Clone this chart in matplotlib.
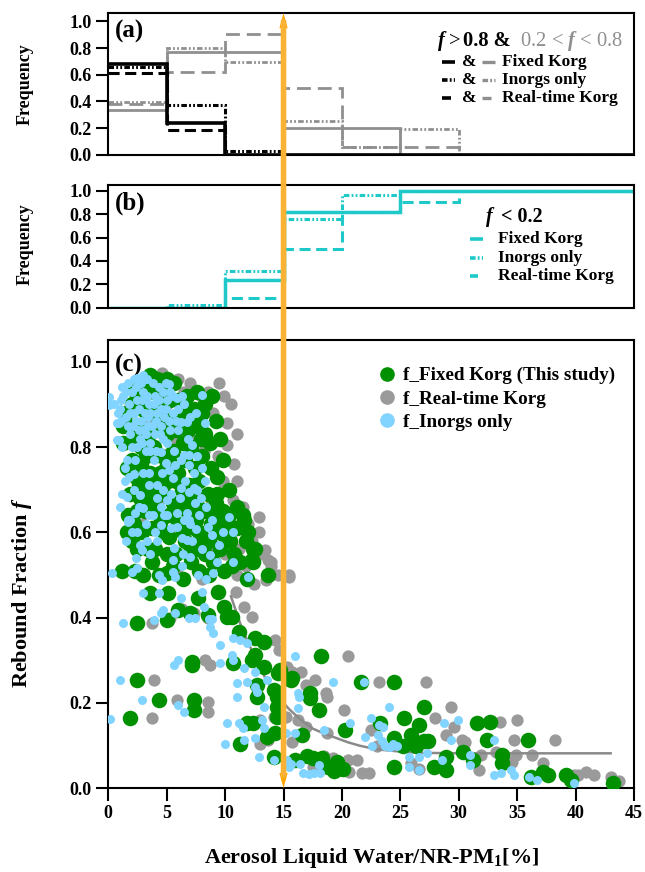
import numpy as np
import matplotlib.pyplot as plt
from matplotlib.patches import ConnectionPatch
from matplotlib.lines import Line2D

plt.rcParams['font.family'] = ['Liberation Serif', 'DejaVu Serif']
plt.rcParams['font.weight'] = 'bold'
plt.rcParams['axes.labelweight'] = 'bold'
plt.rcParams['mathtext.fontset'] = 'custom'
plt.rcParams['mathtext.rm'] = 'Liberation Serif:bold'
plt.rcParams['mathtext.bf'] = 'Liberation Serif:bold'
plt.rcParams['mathtext.it'] = 'Liberation Serif:italic'
plt.rcParams['lines.scale_dashes'] = False
plt.rcParams['axes.linewidth'] = 1.5

# ---- data ----
edges = [0, 5, 10, 15, 20, 25, 30, 35, 40, 45]

# (a) fraction of points per bin, f > 0.8 (black) and 0.2 < f < 0.8 (gray)
high_fixed = [0.68, 0.235, 0, 0, 0, 0, 0, 0, 0]
high_inorg = [0.655, 0.375, 0.03, 0, 0, 0, 0, 0, 0]
high_realtime = [0.615, 0.185, 0, 0, 0, 0, 0, 0, 0]
mid_fixed = [0.335, 0.767, 0.767, 0.197, 0.197, 0, 0, 0, 0]
mid_inorg = [0.398, 0.797, 0.692, 0.25, 0.06, 0.195, 0, 0, 0]
mid_realtime = [0.38, 0.623, 0.905, 0.50, 0.06, 0.06, 0, 0, 0]

# (b) cumulative frequency, f < 0.2
low_fixed = [0, 0, 0.24, 0.815, 0.815, 1.0, 1.0, 1.0, 1.0]
low_inorg = [0, 0.023, 0.31, 0.76, 0.96, 1.0, 1.0, 1.0, 1.0]
low_realtime = [0, 0, 0.08, 0.50, 0.82, 0.905, 1.0, 1.0, 1.0]

# (c) scatter: (ALW/NR-PM1 %, rebound fraction f)
fixed_pts = [
    (2.0, 0.90), (2.5, 0.92), (3.0, 0.95), (3.6, 0.97), (4.2, 0.96), (4.8, 0.93), (5.6, 0.95),
    (6.0, 0.91), (6.7, 0.92), (7.3, 0.89), (8.9, 0.92), (8.0, 0.88), (3.3, 0.88), (4.5, 0.89),
    (5.2, 0.87), (1.8, 0.85), (2.6, 0.84), (3.5, 0.83), (4.3, 0.85), (5.0, 0.83), (6.2, 0.86),
    (6.8, 0.84), (7.6, 0.85), (8.3, 0.83), (9.2, 0.86), (8.7, 0.81), (7.1, 0.80), (2.2, 0.81),
    (3.9, 0.80), (2.0, 0.77), (2.8, 0.76), (3.6, 0.74), (4.6, 0.78), (5.4, 0.76), (6.0, 0.74),
    (6.6, 0.77), (7.4, 0.75), (8.0, 0.78), (8.8, 0.75), (9.3, 0.73), (2.4, 0.73), (4.2, 0.72),
    (5.8, 0.72), (7.8, 0.72), (1.9, 0.69), (2.7, 0.68), (3.4, 0.70), (4.0, 0.66), (4.8, 0.69),
    (5.5, 0.67), (6.3, 0.70), (7.0, 0.68), (7.7, 0.66), (8.5, 0.69), (9.2, 0.67), (9.8, 0.65),
    (3.1, 0.65), (6.7, 0.65), (10.3, 0.64), (2.2, 0.62), (2.9, 0.60), (3.7, 0.61), (4.5, 0.63),
    (5.2, 0.59), (6.0, 0.62), (6.6, 0.58), (7.3, 0.61), (8.0, 0.59), (8.8, 0.62), (9.5, 0.60),
    (10.4, 0.58), (11.0, 0.61), (11.5, 0.64), (12.6, 0.56), (4.0, 0.56), (8.3, 0.55),
    (1.2, 0.51), (2.3, 0.51), (3.0, 0.50), (4.3, 0.50), (5.5, 0.52), (6.4, 0.49), (7.1, 0.53),
    (8.6, 0.50), (9.9, 0.51), (11.3, 0.53), (12.4, 0.53), (11.9, 0.49), (13.7, 0.50),
    (9.3, 0.69), (11.6, 0.63), (10.7, 0.61), (12.4, 0.56), (12.3, 0.535), (1.3, 0.85),
    (1.3, 0.81), (1.5, 0.88), (2.5, 0.56), (1.6, 0.60),
    (2.3, 0.94), (3.9, 0.93), (5.3, 0.91), (6.4, 0.89), (7.0, 0.86), (7.9, 0.82), (2.9, 0.89),
    (3.8, 0.88), (4.7, 0.86), (5.8, 0.84), (6.4, 0.81), (5.5, 0.79), (4.9, 0.75), (3.2, 0.78),
    (2.6, 0.71), (3.0, 0.72), (3.9, 0.69), (4.4, 0.74), (5.1, 0.72), (6.1, 0.67), (6.9, 0.71),
    (7.5, 0.63), (8.2, 0.65), (9.0, 0.64), (8.6, 0.58), (7.6, 0.56), (6.9, 0.55), (5.8, 0.55),
    (5.0, 0.55), (3.4, 0.56), (2.0, 0.58), (1.7, 0.64), (2.5, 0.65), (3.5, 0.67), (5.2, 0.64),
    (6.4, 0.60), (4.8, 0.60), (7.8, 0.60), (9.6, 0.56), (10.0, 0.59), (9.0, 0.53), (10.8, 0.55),
    (11.8, 0.58), (10.3, 0.70), (9.8, 0.77), (9.6, 0.82), (8.3, 0.90), (7.6, 0.93), (5.0, 0.96),
    (2.8, 0.80), (1.6, 0.75), (3.7, 0.53), (5.0, 0.505), (7.8, 0.51), (10.6, 0.52), (12.0, 0.60),
    (11.0, 0.66), (9.9, 0.62),
    (3.6, 0.457), (5.1, 0.457), (7.7, 0.446), (9.4, 0.46), (9.9, 0.426), (2.46, 0.387),
    (5.0, 0.394), (6.0, 0.418), (7.0, 0.41), (8.5, 0.406), (10.2, 0.402), (10.6, 0.402),
    (11.2, 0.367), (12.6, 0.352), (13.3, 0.344), (12.6, 0.312), (13.3, 0.285), (14.5, 0.27),
    (15.6, 0.254), (7.2, 0.296), (7.2, 0.289), (10.7, 0.293), (2.46, 0.254), (4.3, 0.207),
    (7.3, 0.207), (7.3, 0.184), (1.9, 0.165), (12.7, 0.242), (12.7, 0.215), (14.2, 0.23),
    (14.4, 0.19), (11.9, 0.152), (12.4, 0.152), (13.6, 0.121), (11.3, 0.105), (14.3, 0.13),
    (14.2, 0.074), (16.0, 0.066), (12.3, 0.30), (14.7, 0.278), (14.4, 0.215), (14.4, 0.168),
    (18.2, 0.309), (15.7, 0.258), (21.6, 0.25), (24.5, 0.25), (17.3, 0.223), (17.3, 0.212),
    (18.0, 0.184), (16.6, 0.125), (20.3, 0.137), (23.3, 0.152), (25.3, 0.164), (27.0, 0.191),
    (26.6, 0.148), (25.9, 0.125), (24.5, 0.117), (25.2, 0.10), (26.3, 0.10), (27.0, 0.11),
    (27.4, 0.11), (24.5, 0.05), (27.9, 0.05), (28.9, 0.043), (28.9, 0.074), (17.0, 0.075),
    (17.5, 0.07), (18.3, 0.072), (18.8, 0.05), (19.6, 0.062), (19.6, 0.045), (20.1, 0.045),
    (19.3, 0.04), (30.4, 0.086), (31.6, 0.152), (32.7, 0.156), (32.4, 0.113), (33.7, 0.078),
    (33.7, 0.059), (35.9, 0.113), (36.2, 0.027), (37.2, 0.039), (37.6, 0.031), (39.2, 0.031),
    (39.6, 0.02), (43.2, 0.012), (31.2, 0.067),
]

realtime_pts = [
    (4.6, 0.973), (7.9, 0.92), (9.9, 0.92), (10.2, 0.856), (10.2, 0.805), (9.4, 0.78),
    (9.8, 0.72), (10.7, 0.676), (10.2, 0.64), (12.9, 0.637), (12.9, 0.60), (13.4, 0.559),
    (13.9, 0.52), (15.5, 0.496), (11.2, 0.56), (12.0, 0.62), (10.8, 0.76), (9.0, 0.88),
    (8.5, 0.93), (6.5, 0.93), (5.0, 0.90), (3.0, 0.92), (3.5, 0.85), (5.5, 0.82), (7.0, 0.82),
    (8.2, 0.79), (6.0, 0.72), (7.5, 0.70), (8.6, 0.66), (4.5, 0.68), (3.0, 0.62), (5.0, 0.60),
    (6.8, 0.58), (9.0, 0.57), (10.0, 0.55), (11.8, 0.52), (2.8, 0.50), (6.0, 0.50), (8.0, 0.49),
    (12.5, 0.48), (11.0, 0.50), (9.9, 0.703), (11.9, 0.60), (13.7, 0.535),
    (9.5, 0.95), (10.5, 0.90), (11.0, 0.83), (11.0, 0.72), (11.5, 0.66), (12.3, 0.58),
    (13.0, 0.55), (14.5, 0.50), (4.0, 0.95), (6.0, 0.96), (7.0, 0.95), (9.5, 0.60), (10.5, 0.62),
    (15.45, 0.50), (13.9, 0.53), (13.5, 0.488), (10.9, 0.461), (11.6, 0.426), (12.3, 0.402),
    (14.3, 0.348), (14.6, 0.324), (15.3, 0.285), (15.7, 0.273), (3.7, 0.387), (5.3, 0.40),
    (6.3, 0.42), (7.3, 0.41), (8.5, 0.40), (8.3, 0.30), (8.7, 0.289), (3.9, 0.254),
    (5.9, 0.207), (8.5, 0.203), (8.5, 0.18), (3.7, 0.164), (13.0, 0.16), (14.2, 0.168),
    (15.2, 0.168), (13.0, 0.105), (13.7, 0.113), (15.7, 0.109),
    (20.5, 0.309), (23.2, 0.25), (27.2, 0.25), (16.5, 0.273), (16.9, 0.242), (17.7, 0.254),
    (18.6, 0.223), (18.7, 0.215), (20.2, 0.184), (16.2, 0.16), (16.9, 0.144), (18.7, 0.129),
    (22.5, 0.137), (28.0, 0.164), (29.3, 0.191), (28.9, 0.125), (29.6, 0.144), (20.5, 0.066),
    (21.3, 0.066), (21.7, 0.035), (22.3, 0.035), (20.6, 0.039), (25.9, 0.06), (26.6, 0.045),
    (30.3, 0.113), (30.4, 0.094), (31.9, 0.078), (33.2, 0.086), (34.9, 0.078), (36.3, 0.078),
    (37.2, 0.059), (39.9, 0.031), (40.9, 0.039), (41.6, 0.031), (43.0, 0.027), (43.7, 0.016),
    (33.5, 0.156), (35.0, 0.16), (38.2, 0.113), (34.7, 0.113), (30.5, 0.109), (34.6, 0.062),
    (31.7, 0.043), (40.2, 0.031), (18.5, 0.075), (17.5, 0.05), (19.2, 0.07), (23.0, 0.10),
]

inorg_pts = [
    (0.03, 0.918), (0.03, 0.898), (0.9, 0.816), (0.9, 0.856), (1.7, 0.625), (2.46, 0.961),
    (3.0, 0.969), (5.2, 0.949), (5.9, 0.914), (8.0, 0.922), (0.74, 0.856), (0.74, 0.816),
    (8.3, 0.856), (6.2, 0.859), (6.7, 0.859), (7.2, 0.805), (4.5, 0.789), (6.5, 0.781),
    (6.9, 0.781), (1.6, 0.77), (2.2, 0.738), (4.9, 0.762), (5.2, 0.746), (5.7, 0.758),
    (6.9, 0.758), (5.5, 0.727), (3.5, 0.711), (4.2, 0.711), (6.2, 0.703), (6.9, 0.695),
    (7.3, 0.703), (1.6, 0.684), (2.7, 0.688), (4.2, 0.68), (5.0, 0.676), (7.9, 0.68),
    (1.7, 0.629), (2.3, 0.645), (3.0, 0.656), (5.0, 0.641), (5.9, 0.645), (6.7, 0.645),
    (6.5, 0.629), (2.0, 0.602), (4.5, 0.617), (5.9, 0.613), (7.5, 0.609), (8.5, 0.613),
    (8.9, 0.594), (10.3, 0.637), (6.3, 0.586), (6.7, 0.582), (2.7, 0.57), (2.9, 0.559),
    (5.6, 0.563), (9.5, 0.57), (7.0, 0.543), (8.7, 0.547), (5.5, 0.535), (10.7, 0.602),
    (10.7, 0.531), (12.0, 0.496),
    (1.3, 0.92), (1.8, 0.90), (2.0, 0.93), (2.5, 0.91), (3.0, 0.93), (3.5, 0.90), (4.0, 0.92),
    (4.5, 0.89), (5.0, 0.91), (1.5, 0.87), (2.2, 0.88), (2.8, 0.86), (3.4, 0.87), (4.1, 0.86),
    (4.8, 0.87), (5.5, 0.88), (3.8, 0.95), (2.6, 0.84), (3.2, 0.83), (4.4, 0.83), (1.9, 0.83),
    (3.2, 0.79), (3.9, 0.77), (2.5, 0.80), (3.5, 0.74), (4.0, 0.60), (3.5, 0.64), (4.5, 0.66),
    (3.3, 0.58), (6.1, 0.68), (7.8, 0.64), (1.4, 0.72), (2.2, 0.70),
    (0.5, 0.90), (1.0, 0.89), (1.2, 0.94), (1.7, 0.95), (2.2, 0.96), (2.8, 0.95), (3.3, 0.96),
    (4.3, 0.94), (4.7, 0.93), (5.5, 0.92), (6.0, 0.89), (6.5, 0.90), (7.0, 0.87), (7.5, 0.88),
    (6.0, 0.84), (6.8, 0.82), (5.3, 0.84), (4.5, 0.85), (3.7, 0.85), (3.0, 0.84), (2.4, 0.86),
    (1.7, 0.85), (1.1, 0.86), (1.2, 0.80), (2.0, 0.80), (2.9, 0.81), (3.6, 0.81), (4.1, 0.79),
    (5.0, 0.81), (5.6, 0.79), (6.2, 0.77), (7.6, 0.78), (8.0, 0.75), (7.3, 0.74), (4.6, 0.74),
    (3.0, 0.74), (1.8, 0.73), (1.2, 0.69), (2.6, 0.66), (3.8, 0.64), (4.7, 0.70), (5.4, 0.69),
    (6.6, 0.72), (7.4, 0.67), (8.4, 0.66), (8.9, 0.63), (7.2, 0.58), (8.0, 0.56), (4.2, 0.58),
    (3.6, 0.55), (1.5, 0.58), (6.3, 0.52), (9.3, 0.53), (9.8, 0.60),
    (1.5, 0.93), (2.4, 0.94), (2.9, 0.91), (3.3, 0.92), (3.9, 0.90), (4.3, 0.91), (4.9, 0.95),
    (5.3, 0.93), (1.9, 0.88), (2.6, 0.89), (3.1, 0.88), (3.6, 0.88), (4.2, 0.88), (4.9, 0.89),
    (5.2, 0.86), (2.1, 0.85), (2.7, 0.82), (3.4, 0.85), (4.0, 0.83), (4.7, 0.82), (3.1, 0.96),
    (1.1, 0.91), (0.8, 0.88), (6.3, 0.92), (5.8, 0.86), (3.6, 0.79), (2.3, 0.77), (1.4, 0.75),
    (1.0, 0.66), (1.9, 0.63), (2.5, 0.60), (3.2, 0.62), (2.4, 0.54), (4.8, 0.64), (5.4, 0.61),
    (6.9, 0.63), (7.6, 0.70), (8.3, 0.72), (7.0, 0.62), (6.4, 0.55),
    (0.3, 0.504), (2.0, 0.508), (2.5, 0.516), (4.3, 0.50), (4.6, 0.488), (5.5, 0.508),
    (5.7, 0.496), (7.7, 0.50), (8.4, 0.49), (9.0, 0.505), (3.0, 0.457), (4.3, 0.457),
    (6.2, 0.445), (8.0, 0.461), (8.2, 0.426), (1.3, 0.387), (3.9, 0.394), (4.5, 0.41),
    (4.7, 0.418), (5.7, 0.41), (6.9, 0.40), (7.4, 0.40), (8.6, 0.398), (8.9, 0.398),
    (8.7, 0.379), (9.0, 0.363), (9.6, 0.336), (10.7, 0.352), (11.3, 0.348), (11.9, 0.34),
    (5.6, 0.289), (6.0, 0.30), (9.6, 0.293), (10.6, 0.312), (10.7, 0.30), (11.6, 0.281),
    (12.6, 0.273), (1.03, 0.254), (2.9, 0.207), (6.0, 0.195), (6.5, 0.18), (11.0, 0.246),
    (11.9, 0.25), (11.0, 0.215), (12.6, 0.238), (12.7, 0.226), (13.6, 0.254), (13.3, 0.19),
    (0.17, 0.162), (10.2, 0.152), (11.2, 0.152), (11.5, 0.141), (13.2, 0.16), (13.3, 0.141),
    (10.0, 0.105), (11.6, 0.113), (12.6, 0.117), (12.9, 0.074), (14.2, 0.066), (15.3, 0.066),
    (15.5, 0.05), (15.2, 0.129), (16.0, 0.129), (16.2, 0.223),
    (16.0, 0.309), (16.3, 0.215), (16.2, 0.188), (19.2, 0.25), (21.9, 0.25), (20.7, 0.152),
    (18.5, 0.137), (23.2, 0.148), (22.5, 0.164), (24.0, 0.191), (22.0, 0.12), (22.6, 0.10),
    (23.1, 0.125), (23.4, 0.11), (23.7, 0.10), (24.1, 0.096), (24.4, 0.105), (24.7, 0.10),
    (23.5, 0.144), (25.7, 0.074), (26.6, 0.074), (27.3, 0.083), (25.7, 0.05), (26.6, 0.043),
    (28.6, 0.066), (28.7, 0.152), (29.9, 0.16), (29.3, 0.113), (16.7, 0.035), (17.2, 0.033),
    (17.6, 0.035), (18.1, 0.035), (16.4, 0.058), (18.0, 0.055), (15.6, 0.058),
    (33.0, 0.113), (31.0, 0.078), (31.0, 0.055), (33.0, 0.031), (33.6, 0.035), (34.5, 0.043),
    (36.0, 0.027), (36.7, 0.02), (39.9, 0.013), (34.7, 0.031),
]

# fitted curve
fit_x = [10.5, 11.5, 12.5, 13.5, 14.5, 15.5, 16.5, 17.5, 18.5, 19.5, 20.5, 21.5, 22.5,
         23.5, 25.0, 27.0, 30.0, 35.0, 40.0, 43.0]
fit_f = [0.45, 0.37, 0.31, 0.255, 0.215, 0.185, 0.16, 0.14, 0.128, 0.118, 0.108, 0.10,
         0.094, 0.09, 0.086, 0.083, 0.082, 0.082, 0.082, 0.082]

threshold = 15

# ---- style ----
GRAY = '#8f8f8f'
CYAN = '#1fc9c9'
GREEN = '#009000'
GRAY_PT = '#9a9a9a'
BLUE_PT = '#80d4ff'
ORANGE = '#f9b233'
DASHED = (0, (8, 4))
DASHDOT2 = (0, (4, 1.6, 1.3, 1.6, 1.3, 1.6))

fig = plt.figure(figsize=(6.45, 8.72), dpi=100)
ax_a = fig.add_axes([0.1679, 0.8226, 0.815, 0.1625])
ax_b = fig.add_axes([0.1679, 0.6471, 0.815, 0.1407])
ax_c = fig.add_axes([0.1679, 0.0960, 0.815, 0.5141])


def style_axis(ax, ylim):
    ax.set_xlim(0, 45)
    ax.set_ylim(*ylim)
    ax.set_yticks(np.arange(0, 1.01, 0.2))
    ax.set_yticklabels(['%.1f' % v for v in np.arange(0, 1.01, 0.2)])
    ax.tick_params(direction='out', length=9, width=1.5, labelsize=13, pad=3)


# (a)
style_axis(ax_a, (0, 1.063))
ax_a.tick_params(axis='x', bottom=False, labelbottom=False)
ax_a.stairs(mid_fixed, edges, baseline=None, color=GRAY, lw=2)
ax_a.stairs(mid_inorg, edges, baseline=None, color=GRAY, lw=2, ls=DASHDOT2)
ax_a.stairs(mid_realtime, edges, baseline=None, color=GRAY, lw=2, ls=(0, (10, 5)))
ax_a.stairs(high_fixed, edges, baseline=None, color='black', lw=2.6)
ax_a.stairs(high_inorg, edges, baseline=None, color='black', lw=2.2, ls=DASHDOT2)
ax_a.stairs(high_realtime, edges, baseline=None, color='black', lw=2.2, ls=DASHED)
ax_a.set_ylabel('Frequency', fontsize=13)
ax_a.yaxis.label.set_va('center')
ax_a.yaxis.set_label_coords(-0.158, 0.5)
ax_a.text(0.012, 0.95, '(a)', transform=ax_a.transAxes, fontsize=18, va='top')

# (b)
style_axis(ax_b, (0, 1.049))
ax_b.tick_params(axis='x', bottom=False, labelbottom=False)
ax_b.stairs(low_fixed, edges, baseline=None, color=CYAN, lw=2.5)
ax_b.stairs(low_inorg, edges, baseline=None, color=CYAN, lw=2.2, ls=DASHDOT2)
ax_b.stairs(low_realtime, edges, baseline=None, color=CYAN, lw=2.2, ls=DASHED)
ax_b.set_ylabel('Frequency', fontsize=13)
ax_b.yaxis.label.set_va('center')
ax_b.yaxis.set_label_coords(-0.158, 0.52)
ax_b.text(0.012, 0.95, '(b)', transform=ax_b.transAxes, fontsize=18, va='top')

# (c)
style_axis(ax_c, (0, 1.051))
ax_c.set_xticks(range(0, 46, 5))
fx, ff = np.array(fixed_pts).T
rx, rf = np.array(realtime_pts).T
ix, iff = np.array(inorg_pts).T
ax_c.scatter(rx, rf, s=78, color=GRAY_PT, lw=0, zorder=2)
ax_c.plot(fit_x, fit_f, color='#8a8a8a', lw=1.8, zorder=2.5)
ax_c.scatter(fx, ff, s=125, color=GREEN, lw=0, zorder=3)
ax_c.scatter(ix, iff, s=42, color=BLUE_PT, lw=0, zorder=4)
ax_c.set_xlabel('Aerosol Liquid Water/NR-PM$_\\mathbf{1}$[%]', fontsize=16)
ax_c.xaxis.label.set_va('center')
ax_c.xaxis.set_label_coords(0.5, -0.155)
ax_c.set_ylabel('Rebound Fraction $f$', fontsize=16)
ax_c.yaxis.label.set_va('center')
ax_c.yaxis.set_label_coords(-0.164, 0.436)
ax_c.text(0.012, 0.97, '(c)', transform=ax_c.transAxes, fontsize=18, va='top')

handles = [
    Line2D([], [], ls='none', marker='o', ms=9.5, color=GREEN, label='f_Fixed Korg (This study)'),
    Line2D([], [], ls='none', marker='o', ms=9.5, color=GRAY_PT, label='f_Real-time Korg'),
    Line2D([], [], ls='none', marker='o', ms=9.5, color=BLUE_PT, label='f_Inorgs only'),
]
ax_c.legend(handles=handles, loc='upper left', bbox_to_anchor=(0.515, 0.94), frameon=False,
            fontsize=13.8, handlelength=0.8, handletextpad=0.45, labelspacing=0.3,
            borderpad=0, borderaxespad=0)

# manual legends for (a) and (b)
fig.canvas.draw()
renderer = fig.canvas.get_renderer()


def text_run(ax, x, y, parts, size):
    # parts: list of (string, color, weight)
    inv = ax.transAxes.inverted()
    for s, c, w in parts:
        t = ax.text(x, y, s, color=c, fontweight=w, fontsize=size, transform=ax.transAxes,
                    va='baseline', ha='left')
        bb = t.get_window_extent(renderer)
        x = inv.transform((bb.x1, bb.y0))[0]


text_run(ax_a, 0.6255, 0.77, [('$f$ > ', 'black', 'normal'), ('0.8 &', 'black', 'bold'),
                              ('  0.2 < $f$ < 0.8', GRAY, 'normal')], 14.8)
rows_a = [('Fixed Korg', '-', 0.654), ('Inorgs only', DASHDOT2, 0.527),
          ('Real-time Korg', DASHED, 0.40)]
for label, ls, y in rows_a:
    x1 = 0.660 if ls != DASHED else 0.652
    ax_a.plot([0.634, x1], [y, y], color='black', lw=2.6, ls=ls, transform=ax_a.transAxes,
              solid_capstyle='butt')
    ax_a.plot([0.710, 0.710 + x1 - 0.634], [y, y], color=GRAY, lw=2.4, ls=ls,
              transform=ax_a.transAxes, solid_capstyle='butt')
    ax_a.text(0.686, y, '&', transform=ax_a.transAxes, fontsize=12.5, ha='center', va='center')
    ax_a.text(0.748, y, label, transform=ax_a.transAxes, fontsize=12.5, ha='left', va='center')

text_run(ax_b, 0.717, 0.70, [('$f$', 'black', 'normal'), (' < 0.2', 'black', 'bold')], 14.5)
rows_b = [('Fixed Korg', '-', 0.56), ('Inorgs only', DASHDOT2, 0.406),
          ('Real-time Korg', DASHED, 0.255)]
for label, ls, y in rows_b:
    x1 = 0.712 if ls != DASHED else 0.703
    ax_b.plot([0.688, x1], [y, y], color=CYAN, lw=2.6, ls=ls, transform=ax_b.transAxes,
              solid_capstyle='butt')
    ax_b.text(0.741, y, label, transform=ax_b.transAxes, fontsize=12.5, ha='left', va='center')

# orange threshold arrow across all panels
con = ConnectionPatch(xyA=(threshold, 1.0), coordsA=ax_a.transData,
                      xyB=(threshold, 0.03), coordsB=ax_c.transData,
                      color=ORANGE, lw=4, ls=(0, (1.5, 0.7)), zorder=5)
fig.add_artist(con)
head = dict(arrowstyle='-|>,head_length=1.1,head_width=0.3', color='#ffa500', lw=0,
            shrinkA=0, shrinkB=0, mutation_scale=10)
ax_a.annotate('', xy=(threshold, 1.063), xytext=(threshold, 0.93), arrowprops=head,
              annotation_clip=False, zorder=6)
ax_c.annotate('', xy=(threshold, 0.0), xytext=(threshold, 0.04), arrowprops=head,
              annotation_clip=False, zorder=6)

fig.savefig('out.png', dpi=100)
